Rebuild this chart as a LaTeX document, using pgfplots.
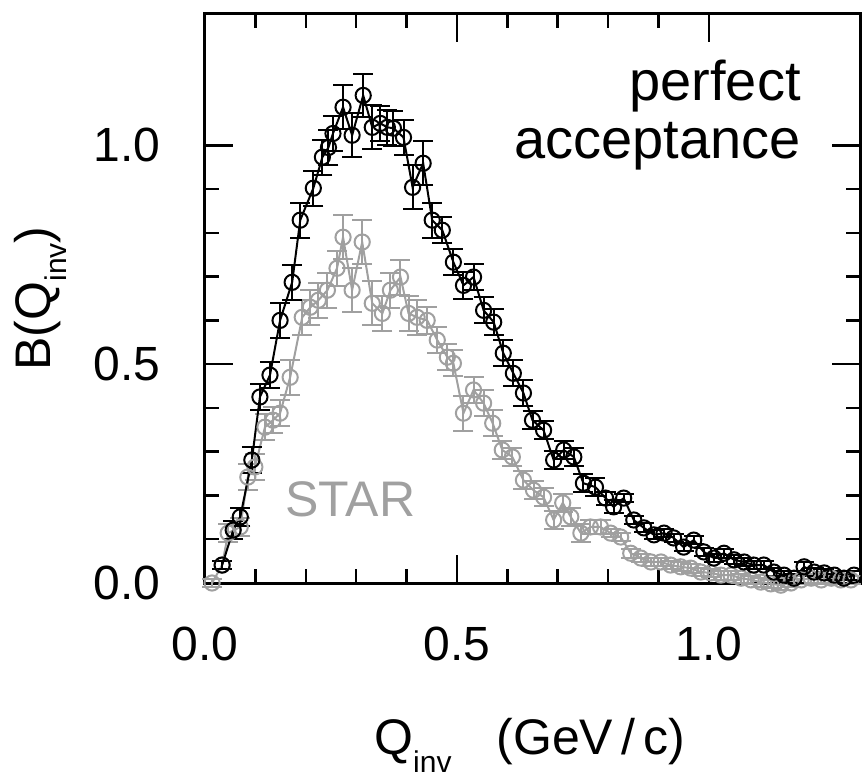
\documentclass[border=0pt]{standalone}
\usepackage{pgfplots}
\pgfplotsset{compat=1.18}
\usepackage{pgfplotstable}
\usepackage{fontspec}
\setmainfont{Liberation Sans}
\definecolor{stargray}{RGB}{160,160,160}

% perfect acceptance (black)
\pgfplotstableread{
x y e
0.034 0.041 0.01
0.056 0.121 0.02
0.070 0.151 0.02
0.093 0.281 0.03
0.109 0.425 0.03
0.129 0.475 0.03
0.149 0.600 0.04
0.173 0.687 0.04
0.189 0.829 0.04
0.215 0.902 0.04
0.233 0.973 0.04
0.245 0.995 0.04
0.254 1.027 0.04
0.274 1.087 0.05
0.292 1.023 0.05
0.314 1.114 0.05
0.332 1.041 0.05
0.348 1.050 0.04
0.362 1.041 0.04
0.374 1.039 0.04
0.394 1.018 0.04
0.412 0.904 0.05
0.433 0.959 0.05
0.451 0.829 0.04
0.471 0.806 0.03
0.493 0.733 0.03
0.513 0.680 0.03
0.533 0.699 0.03
0.553 0.623 0.03
0.573 0.596 0.03
0.592 0.525 0.03
0.612 0.479 0.03
0.632 0.434 0.03
0.650 0.372 0.02
0.672 0.349 0.02
0.692 0.281 0.02
0.712 0.304 0.02
0.732 0.288 0.02
0.751 0.228 0.02
0.775 0.219 0.02
0.795 0.194 0.015
0.811 0.174 0.015
0.831 0.194 0.01
0.851 0.144 0.01
0.871 0.126 0.01
0.891 0.110 0.01
0.911 0.114 0.01
0.930 0.103 0.01
0.950 0.082 0.01
0.970 0.098 0.01
0.990 0.071 0.01
1.010 0.057 0.01
1.030 0.068 0.01
1.050 0.053 0.01
1.070 0.048 0.01
1.089 0.041 0.01
1.109 0.041 0.01
1.129 0.025 0.01
1.149 0.018 0.01
1.169 0.011 0.01
1.189 0.037 0.01
1.209 0.025 0.01
1.229 0.023 0.01
1.249 0.018 0.01
1.268 0.011 0.01
1.288 0.018 0.01
}\perfdata

% STAR acceptance (grey)
\pgfplotstableread{
x y e
0.014 0.000 0.01
0.034 0.041 0.01
0.046 0.114 0.02
0.070 0.128 0.02
0.085 0.242 0.03
0.099 0.265 0.03
0.119 0.356 0.03
0.135 0.372 0.03
0.149 0.388 0.03
0.169 0.470 0.04
0.193 0.607 0.04
0.209 0.630 0.04
0.225 0.646 0.04
0.243 0.669 0.04
0.262 0.719 0.04
0.274 0.790 0.05
0.292 0.669 0.05
0.312 0.779 0.05
0.332 0.639 0.05
0.352 0.616 0.04
0.368 0.669 0.04
0.388 0.699 0.04
0.404 0.616 0.04
0.421 0.607 0.04
0.441 0.600 0.03
0.461 0.555 0.03
0.481 0.516 0.03
0.493 0.502 0.03
0.513 0.388 0.04
0.533 0.441 0.03
0.553 0.411 0.03
0.571 0.365 0.03
0.590 0.304 0.02
0.610 0.288 0.02
0.632 0.235 0.02
0.652 0.212 0.02
0.672 0.196 0.02
0.692 0.144 0.02
0.710 0.183 0.02
0.726 0.151 0.02
0.746 0.114 0.02
0.765 0.128 0.015
0.785 0.128 0.015
0.805 0.114 0.01
0.825 0.105 0.01
0.845 0.068 0.01
0.865 0.057 0.01
0.885 0.048 0.01
0.905 0.048 0.01
0.924 0.041 0.01
0.944 0.037 0.01
0.964 0.034 0.01
0.984 0.025 0.01
1.004 0.023 0.01
1.024 0.018 0.01
1.044 0.018 0.01
1.064 0.011 0.01
1.084 0.007 0.01
1.103 0.002 0.01
1.123 -0.002 0.01
1.143 -0.005 0.01
1.163 0.000 0.01
1.183 0.007 0.01
1.203 0.011 0.01
1.223 0.007 0.01
1.243 0.011 0.01
1.262 0.007 0.01
1.282 0.007 0.01
}\stardata

\begin{document}
\begin{tikzpicture}
\path[use as bounding box] (-102.5pt,-99.5pt) rectangle (328.5pt,291.5pt);
\begin{axis}[
  scale only axis, width=327.5pt, height=284.5pt,
  xmin=0, xmax=1.3, ymin=0, ymax=1.3,
  xtick={0,0.5,1}, xticklabels={0.0,0.5,1.0},
  ytick={0,0.5,1}, yticklabels={0.0,0.5,1.0},
  minor tick num=4,
  tick align=inside,
  major tick length=14pt, minor tick length=7pt,
  tick style={black, line width=1.2pt},
  axis line style={line width=1.5pt},
  tick label style={font=\fontsize{24}{28}\selectfont, inner sep=0pt},
  xticklabel shift=22pt, yticklabel shift=22pt,
  xlabel={Q\raisebox{-9pt}{\fontsize{15}{15}\selectfont inv}\hspace{0.9em}(GeV\,/\,c)},
  xlabel style={at={(rel axis cs:0.496,-0.302)}, anchor=base, font=\fontsize{25}{30}\selectfont},
  ylabel={B(Q\raisebox{-8pt}{\fontsize{15}{15}\selectfont inv})},
  ylabel style={at={(rel axis cs:-0.252,0.5)}, anchor=center, font=\fontsize{25}{30}\selectfont},
  clip=false,
]
\addplot[stargray, line width=1pt, mark=o, mark size=3.8pt,
  mark options={solid, line width=1pt},
  error bars/.cd, y dir=both, y explicit,
  error bar style={line width=1pt, stargray},
  error mark options={rotate=90, mark size=5pt, line width=1pt, stargray}]
  table[x=x, y=y, y error=e] {\stardata};
\addplot[black, line width=1pt, mark=o, mark size=3.8pt,
  mark options={solid, line width=1pt},
  error bars/.cd, y dir=both, y explicit,
  error bar style={line width=1pt, black},
  error mark options={rotate=90, mark size=5pt, line width=1pt, black}]
  table[x=x, y=y, y error=e] {\perfdata};
\node[anchor=base east, inner sep=0pt, font=\fontsize{28}{32}\selectfont] at (axis cs:1.183,1.103) {perfect};
\node[anchor=base east, inner sep=0pt, font=\fontsize{28}{32}\selectfont] at (axis cs:1.183,0.970) {acceptance};
\node[anchor=base west, inner sep=0pt, text=stargray, font=\fontsize{25}{30}\selectfont] at (axis cs:0.159,0.151) {STAR};
\end{axis}
\end{tikzpicture}
\end{document}
